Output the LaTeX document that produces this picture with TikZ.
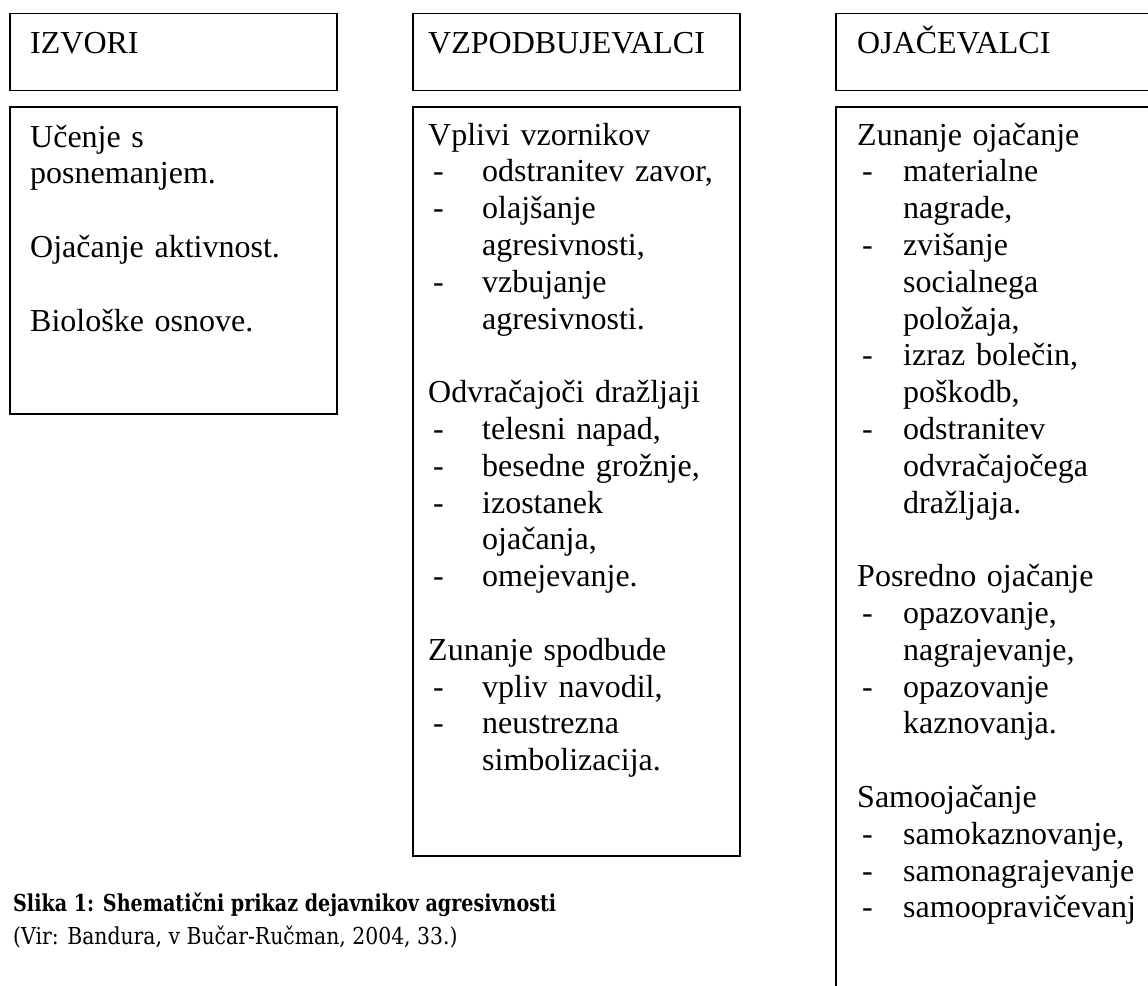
\documentclass[tikz,border=0pt]{standalone}
\usepackage{fontspec}
\setmainfont{Liberation Serif}
\newfontfamily\capfont[FakeStretch=0.875]{DejaVu Serif}
\newfontfamily\capfontb[FakeStretch=0.82]{DejaVu Serif}
\usetikzlibrary{positioning}
\newlength\indw
\newcommand\hy{\makebox[\indw][l]{\hspace{5pt}-}}
\newcommand\cnt{\hspace*{\indw}}
\begin{document}
\begin{tikzpicture}[x=1pt,y=-1pt,
  frame/.style={draw,line width=1.5pt,anchor=north west,inner sep=0pt,
                minimum width=327pt},
  head/.style={frame,minimum height=77pt},
  txt/.style={anchor=base west,inner sep=0pt,text width=330pt,align=left,
              font=\fontsize{32}{36.8}\selectfont\setlength\indw{54pt}},
  capt/.style={anchor=base west,inner sep=0pt,font=\capfont\fontsize{23.3}{27}\selectfont}]
  \useasboundingbox (0,0) rectangle (1148,985);
  \clip (0,0) rectangle (1148,985);
  % header row
  \node[head] (hIzv) at (9,12.7) {};
  \node[head] (hVzp) at (412,12.7) {};
  \node[head,minimum width=360pt] (hOja) at (835,12.7) {};
  \node[txt] (tIzv) at (30,53) {IZVORI};
  \node[txt] (tVzp) at (428,53) {VZPODBUJEVALCI};
  \node[txt] (tOja) at (857,53) {OJAČEVALCI};
  % body boxes
  \node[frame,minimum height=307pt] (bIzv) at (9,106) {};
  \node[frame,minimum height=749pt] (bVzp) at (412,106) {};
  \node[frame,minimum width=360pt,minimum height=920pt] (bOja) at (835,106) {};
  \node[txt] (lIzv) at (30,147) {Učenje s\\
    posnemanjem.\\[36.8pt]
    Ojačanje aktivnost.\\[36.8pt]
    Biološke osnove.};
  \node[txt] (lVzp) at (428,145) {Vplivi vzornikov\\
    \hy odstranitev zavor,\\
    \hy olajšanje\\
    \cnt agresivnosti,\\
    \hy vzbujanje\\
    \cnt agresivnosti.\\[36.8pt]
    Odvračajoči dražljaji\\
    \hy telesni napad,\\
    \hy besedne grožnje,\\
    \hy izostanek\\
    \cnt ojačanja,\\
    \hy omejevanje.\\[36.8pt]
    Zunanje spodbude\\
    \hy vpliv navodil,\\
    \hy neustrezna\\
    \cnt simbolizacija.};
  \node[txt,font=\fontsize{32}{36.8}\selectfont\setlength\indw{46pt}] (lOja) at (857,145) {Zunanje ojačanje\\
    \hy materialne\\
    \cnt nagrade,\\
    \hy zvišanje\\
    \cnt socialnega\\
    \cnt položaja,\\
    \hy izraz bolečin,\\
    \cnt poškodb,\\
    \hy odstranitev\\
    \cnt odvračajočega\\
    \cnt dražljaja.\\[36.8pt]
    Posredno ojačanje\\
    \hy opazovanje,\\
    \cnt nagrajevanje,\\
    \hy opazovanje\\
    \cnt kaznovanja.\\[36.8pt]
    Samoojačanje\\
    \hy samokaznovanje,\\
    \hy samonagrajevanje\\
    \hy samoopravičevanj};
  % caption
  \node[capt] (capT) at (13,911) {\capfontb\bfseries Slika 1: Shematični prikaz dejavnikov agresivnosti};
  \node[capt] (capV) at (13,944) {(Vir: Bandura, v Bučar-Ručman, 2004, 33.)};
\end{tikzpicture}
\end{document}
